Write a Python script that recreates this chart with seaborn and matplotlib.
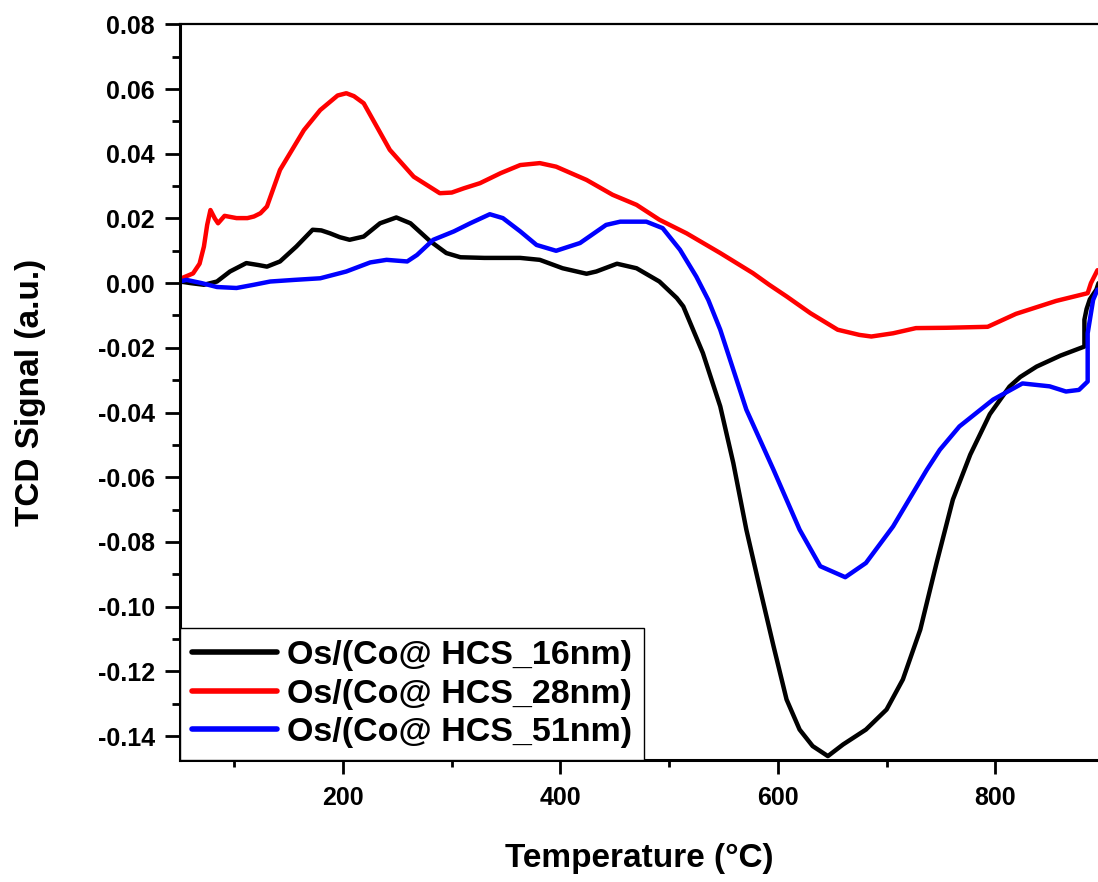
import matplotlib
matplotlib.use("Agg")
import matplotlib.pyplot as plt
import seaborn as sns
import pandas as pd
from matplotlib.ticker import MultipleLocator, FormatStrFormatter

# ---------------- data ----------------
labels = ["Os/(Co@ HCS_16nm)", "Os/(Co@ HCS_28nm)", "Os/(Co@ HCS_51nm)"]
colors = ["#000000", "#FF0000", "#0000FF"]

t_16 = [50, 60, 72, 84, 96, 111, 122, 130, 142, 157, 172, 180, 188, 197, 206, 219, 234, 249,
        262, 280, 295, 308, 330, 363, 381, 402, 424, 433, 452, 470, 491, 507, 513, 531, 547,
        559, 571, 583, 596, 608, 620, 632, 646, 660, 681, 700, 715, 731, 746, 761, 777, 795,
        813, 823, 838, 860, 882, 882, 884, 887, 893, 895]
s_16 = [0.0005, 0.0, -0.0005, 0.0005, 0.0036, 0.0062, 0.0056, 0.0051, 0.0067, 0.0113, 0.0165,
        0.0163, 0.0154, 0.0142, 0.0134, 0.0144, 0.0185, 0.0203, 0.0185, 0.0130, 0.0093, 0.0080,
        0.0078, 0.0078, 0.0072, 0.0046, 0.0029, 0.0036, 0.0060, 0.0046, 0.0005, -0.0046, -0.0072,
        -0.0216, -0.0381, -0.0556, -0.0762, -0.0937, -0.1122, -0.1287, -0.1380, -0.1431, -0.1462,
        -0.1426, -0.1380, -0.1318, -0.1225, -0.1071, -0.0865, -0.0669, -0.0530, -0.0405, -0.0320,
        -0.0290, -0.0258, -0.0224, -0.0196, -0.0113, -0.0080, -0.0050, -0.0020, 0.0000]

t_28 = [50, 62, 68, 72, 75, 78, 82, 85, 91, 102, 112, 118, 124, 130, 142, 164, 179, 195, 203,
        210, 219, 243, 265, 289, 300, 311, 326, 345, 363, 381, 396, 424, 448, 470, 491, 516, 547,
        577, 592, 608, 630, 655, 675, 686, 706, 727, 755, 793, 819, 856, 885, 888, 894]
s_28 = [0.0013, 0.0030, 0.0060, 0.0113, 0.0180, 0.0226, 0.0200, 0.0185, 0.0208, 0.0201, 0.0201,
        0.0206, 0.0216, 0.0237, 0.0350, 0.0473, 0.0535, 0.0580, 0.0587, 0.0578, 0.0556, 0.0412,
        0.0329, 0.0278, 0.0280, 0.0293, 0.0309, 0.0340, 0.0365, 0.0371, 0.0360, 0.0319, 0.0273,
        0.0242, 0.0196, 0.0154, 0.0093, 0.0031, -0.0005, -0.0041, -0.0093, -0.0144, -0.0160,
        -0.0165, -0.0155, -0.0139, -0.0138, -0.0135, -0.0095, -0.0055, -0.0031, 0.0000, 0.0040]

t_51 = [50, 56, 70, 84, 102, 118, 133, 155, 179, 203, 225, 240, 259, 268, 283, 302, 317, 335,
        347, 363, 378, 396, 418, 442, 455, 479, 494, 510, 525, 536, 547, 571, 596, 620, 639, 662,
        681, 706, 737, 749, 767, 798, 825, 850, 865, 877, 885, 885, 890, 894]
s_51 = [0.0005, 0.0010, 0.0000, -0.0012, -0.0015, -0.0005, 0.0005, 0.0010, 0.0015, 0.0036,
        0.0064, 0.0072, 0.0067, 0.0087, 0.0134, 0.0160, 0.0185, 0.0213, 0.0201, 0.0160, 0.0118,
        0.0100, 0.0124, 0.0180, 0.0190, 0.0190, 0.0170, 0.0103, 0.0020, -0.0052, -0.0144,
        -0.0391, -0.0577, -0.0762, -0.0875, -0.0909, -0.0865, -0.0752, -0.0577, -0.0515,
        -0.0443, -0.0360, -0.0310, -0.0319, -0.0335, -0.0330, -0.0304, -0.0155, -0.0052, -0.0020]

x_major_step = 200
y_tick_step = 0.02

# ---------------- styling ----------------
sns.set_style("ticks")
plt.rcParams["font.family"] = ["Liberation Sans", "DejaVu Sans"]
plt.rcParams["font.weight"] = "bold"
plt.rcParams["axes.unicode_minus"] = False
for key in ["text.color", "axes.labelcolor", "xtick.color", "ytick.color", "axes.edgecolor"]:
    plt.rcParams[key] = "black"

W, H = 1098, 882
fig = plt.figure(figsize=(W / 100, H / 100), dpi=100)
ax = fig.add_axes([180 / W, (H - 760) / H, (W - 180) / W, (760 - 24) / H])

series = [(t_16, s_16), (t_28, s_28), (t_51, s_51)]
for (t, s), lab, col in zip(series, labels, colors):
    df = pd.DataFrame({"Temperature": t, "Signal": s})
    sns.lineplot(data=df, x="Temperature", y="Signal", ax=ax, color=col, linewidth=3.2,
                 sort=False, estimator=None, label=lab)

ax.set_xlim(50, 894.5)
ax.set_ylim(-0.1474, 0.0801)

ax.xaxis.set_major_locator(MultipleLocator(x_major_step))
ax.xaxis.set_minor_locator(MultipleLocator(x_major_step / 2))
ax.yaxis.set_major_locator(MultipleLocator(y_tick_step))
ax.yaxis.set_minor_locator(MultipleLocator(y_tick_step / 2))
ax.yaxis.set_major_formatter(FormatStrFormatter("%.2f"))

ax.tick_params(axis="x", which="major", direction="out", length=10, width=2.0,
               labelsize=18, pad=9, colors="black")
ax.tick_params(axis="x", which="minor", direction="out", length=5, width=2.0, colors="black")
ax.tick_params(axis="y", which="major", direction="out", length=11, width=2.0,
               labelsize=18, pad=7, colors="black")
ax.tick_params(axis="y", which="minor", direction="out", length=6, width=2.0, colors="black")
for lbl in ax.get_xticklabels() + ax.get_yticklabels():
    lbl.set_fontweight("bold")

for side in ["left", "bottom"]:
    ax.spines[side].set_linewidth(2.2)
    ax.spines[side].set_color("black")
ax.spines["top"].set_visible(True)
ax.spines["top"].set_linewidth(1.6)
ax.spines["top"].set_color("black")
ax.spines["right"].set_visible(False)

ax.set_xlabel("Temperature (°C)", fontsize=24, fontweight="bold", color="black")
ax.set_ylabel("TCD Signal (a.u.)", fontsize=24, fontweight="bold", color="black")
ax.xaxis.set_label_coords(0.5, (760 - 859) / 736)
ax.xaxis.label.set_va("center")
ax.yaxis.set_label_coords((31 - 180) / 918, 0.5)
ax.yaxis.label.set_va("center")

leg = ax.legend(loc="lower left", bbox_to_anchor=(0.0, 0.0), borderaxespad=0.0,
                prop={"size": 24.5, "weight": "bold"}, frameon=True, fancybox=False,
                edgecolor="black", framealpha=1.0, handlelength=2.5, handletextpad=0.3,
                labelspacing=0.22, borderpad=0.35)
leg.get_frame().set_linewidth(1.0)
for txt in leg.get_texts():
    txt.set_color("black")
for h in leg.get_lines():
    h.set_linewidth(4.0)

fig.savefig("out.png", dpi=100, facecolor="white")
